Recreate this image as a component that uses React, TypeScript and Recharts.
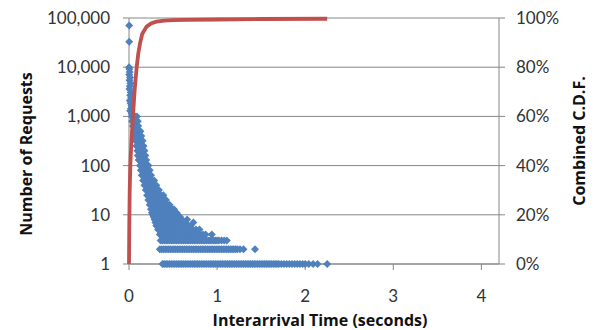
import React from 'react';
import { ScatterChart, Scatter, XAxis, YAxis, CartesianGrid } from 'recharts';

// request counts per interarrival bin
const spikeX = [0.002, 0.002, 0.001, 0.004, 0.008, 0.003, 0.012, 0.006, 0.016, 0.01, 0.005, 0.02, 0.014, 0.024, 0.009, 0.018, 0.028, 0.022, 0.013, 0.03];
const spikeY = [70000, 33000, 10000, 9200, 8000, 7000, 6200, 5400, 4700, 4100, 3600, 3100, 2700, 2400, 2100, 1850, 1650, 1450, 1300, 1150];

const rowCounts = [1000, 800, 640, 500, 400, 320, 250, 200, 160, 130, 100, 80, 64, 50, 40, 32, 25, 20, 16, 13, 11, 10, 9, 8, 7, 6, 5, 4, 3, 2, 1];
const rowX = [
  [0.03, 0.05, 0.07, 0.09],
  [0.035, 0.055, 0.075, 0.1],
  [0.045, 0.065, 0.085, 0.105],
  [0.055, 0.075, 0.095, 0.115, 0.13],
  [0.065, 0.085, 0.105, 0.125, 0.14],
  [0.075, 0.095, 0.115, 0.135, 0.155],
  [0.085, 0.105, 0.125, 0.145, 0.165],
  [0.095, 0.115, 0.135, 0.155, 0.175],
  [0.1, 0.12, 0.14, 0.16, 0.185],
  [0.11, 0.13, 0.15, 0.17, 0.195],
  [0.125, 0.145, 0.165, 0.185, 0.205, 0.22],
  [0.135, 0.155, 0.175, 0.195, 0.215, 0.235],
  [0.145, 0.165, 0.185, 0.205, 0.225, 0.25],
  [0.16, 0.18, 0.2, 0.22, 0.24, 0.26, 0.285],
  [0.175, 0.195, 0.215, 0.235, 0.255, 0.275, 0.295, 0.31],
  [0.19, 0.21, 0.23, 0.25, 0.27, 0.29, 0.31, 0.34],
  [0.205, 0.225, 0.245, 0.265, 0.285, 0.305, 0.325, 0.345, 0.365, 0.39],
  [0.22, 0.24, 0.26, 0.28, 0.3, 0.32, 0.34, 0.36, 0.38, 0.4, 0.42],
  [0.235, 0.255, 0.275, 0.295, 0.315, 0.335, 0.355, 0.375, 0.395, 0.415, 0.435, 0.46],
  [0.25, 0.27, 0.29, 0.31, 0.33, 0.35, 0.37, 0.39, 0.41, 0.43, 0.45, 0.47, 0.49, 0.51],
  [0.26, 0.28, 0.3, 0.32, 0.34, 0.36, 0.38, 0.4, 0.42, 0.44, 0.46, 0.48, 0.5, 0.52, 0.54],
  [0.27, 0.29, 0.31, 0.33, 0.35, 0.37, 0.39, 0.41, 0.43, 0.45, 0.47, 0.49, 0.51, 0.53, 0.55],
  [0.28, 0.3, 0.32, 0.34, 0.36, 0.38, 0.4, 0.42, 0.44, 0.46, 0.48, 0.5, 0.52, 0.54, 0.56, 0.58],
  [0.29, 0.31, 0.33, 0.35, 0.37, 0.39, 0.41, 0.43, 0.45, 0.47, 0.49, 0.51, 0.53, 0.55, 0.57, 0.6, 0.66],
  [0.3, 0.32, 0.34, 0.36, 0.38, 0.4, 0.42, 0.44, 0.46, 0.48, 0.5, 0.52, 0.54, 0.56, 0.58, 0.6, 0.62, 0.64, 0.73],
  [0.31, 0.33, 0.35, 0.37, 0.39, 0.41, 0.43, 0.45, 0.47, 0.49, 0.51, 0.53, 0.55, 0.57, 0.59, 0.61, 0.64, 0.67, 0.7],
  [0.33, 0.35, 0.37, 0.39, 0.41, 0.43, 0.45, 0.47, 0.49, 0.51, 0.53, 0.55, 0.57, 0.59, 0.61, 0.63, 0.65, 0.67, 0.69, 0.72, 0.76, 0.8],
  [0.35, 0.37, 0.39, 0.41, 0.43, 0.45, 0.47, 0.49, 0.51, 0.53, 0.55, 0.57, 0.59, 0.61, 0.63, 0.65, 0.67, 0.69, 0.71, 0.73, 0.75, 0.77, 0.79, 0.81, 0.84, 0.87, 0.94],
  [0.36, 0.38, 0.4, 0.42, 0.44, 0.46, 0.48, 0.5, 0.52, 0.54, 0.56, 0.58, 0.6, 0.62, 0.64, 0.66, 0.68, 0.7, 0.72, 0.74, 0.76, 0.78, 0.8, 0.82, 0.84, 0.86, 0.88, 0.9, 0.92, 0.94, 0.96, 0.98, 1.0, 1.02, 1.05, 1.08, 1.11],
  [0.35, 0.37, 0.39, 0.41, 0.43, 0.45, 0.47, 0.49, 0.51, 0.53, 0.55, 0.57, 0.59, 0.61, 0.63, 0.65, 0.67, 0.69, 0.71, 0.73, 0.75, 0.77, 0.79, 0.81, 0.83, 0.85, 0.87, 0.89, 0.91, 0.93, 0.95, 0.97, 0.99, 1.01, 1.03, 1.05, 1.07, 1.09, 1.11, 1.13, 1.15, 1.17, 1.19, 1.21, 1.23, 1.26, 1.3, 1.43],
  [0.38, 0.4, 0.42, 0.44, 0.46, 0.48, 0.5, 0.52, 0.54, 0.56, 0.58, 0.6, 0.62, 0.64, 0.66, 0.68, 0.7, 0.72, 0.74, 0.76, 0.78, 0.8, 0.82, 0.84, 0.86, 0.88, 0.9, 0.92, 0.94, 0.96, 0.98, 1.0, 1.02, 1.04, 1.06, 1.08, 1.1, 1.12, 1.14, 1.16, 1.18, 1.2, 1.22, 1.24, 1.26, 1.28, 1.3, 1.32, 1.34, 1.36, 1.38, 1.4, 1.42, 1.44, 1.46, 1.48, 1.5, 1.52, 1.54, 1.56, 1.58, 1.6, 1.62, 1.64, 1.66, 1.68, 1.7, 1.73, 1.76, 1.79, 1.82, 1.85, 1.88, 1.91, 1.94, 1.97, 2.0, 2.04, 2.09, 2.14, 2.25],
];

// combined CDF (right axis)
const cdfX = [0, 0.003, 0.008, 0.015, 0.025, 0.035, 0.05, 0.065, 0.087, 0.105, 0.125, 0.15, 0.2, 0.25, 0.31, 0.4, 0.5, 0.65, 1.0, 1.5, 2.25];
const cdfY = [0, 0.15, 0.3, 0.4, 0.48, 0.54, 0.63, 0.71, 0.8, 0.855, 0.897, 0.935, 0.965, 0.978, 0.985, 0.989, 0.991, 0.992, 0.994, 0.996, 0.997];

const xTicks = [0, 1, 2, 3, 4];
const countTicks = [1, 10, 100, 1000, 10000, 100000];
const cdfTicks = [0, 0.2, 0.4, 0.6, 0.8, 1];

const requestPoints = [
  ...spikeX.map((x, i) => ({ x, y: spikeY[i] })),
  ...rowCounts.flatMap((c, i) => rowX[i].map((x) => ({ x, y: c }))),
];
const cdfPoints = cdfX.map((x, i) => ({ x, y: cdfY[i] }));

const BLUE = '#4f81bd';
const RED = '#c0504d';
const AXIS = '#868686';
const FONT = 'Lato, "Open Sans", sans-serif';
const TITLE_FONT = '"Open Sans", Lato, sans-serif';
const tickStyle = { fill: '#333', fontSize: 17, fontFamily: FONT };

const Diamond = (props: any) => {
  const { cx, cy } = props;
  const r = 4;
  return <path d={`M${cx},${cy - r}L${cx + r},${cy}L${cx},${cy + r}L${cx - r},${cy}Z`} fill={BLUE} />;
};

const Nothing = () => <g />;

export default function App() {
  return (
    <div style={{ position: 'absolute', left: 0, top: 0, width: 595, height: 330, background: '#fff' }}>
      <ScatterChart width={595} height={330} margin={{ top: 18, right: 36, bottom: 26, left: 0 }}>
        <CartesianGrid yAxisId="left" vertical={false} stroke={AXIS} strokeWidth={1} />
        <XAxis
          type="number"
          dataKey="x"
          domain={[0, 4.2]}
          ticks={xTicks}
          height={40}
          tickSize={6}
          tickMargin={20}
          stroke={AXIS}
          tick={tickStyle}
        />
        <YAxis
          yAxisId="left"
          type="number"
          dataKey="y"
          scale="log"
          domain={[1, 100000]}
          ticks={countTicks}
          width={129}
          tickSize={6}
          tickMargin={13}
          stroke={AXIS}
          tick={tickStyle}
          tickFormatter={(v: number) => v.toLocaleString('en-US')}
        />
        <YAxis
          yAxisId="right"
          orientation="right"
          type="number"
          dataKey="y"
          domain={[0, 1]}
          ticks={cdfTicks}
          width={60}
          tickSize={6}
          tickMargin={11}
          stroke={AXIS}
          tick={tickStyle}
          tickFormatter={(v: number) => `${Math.round(v * 100)}%`}
        />
        <Scatter yAxisId="left" data={requestPoints} shape={<Diamond />} isAnimationActive={false} />
        <Scatter
          yAxisId="right"
          data={cdfPoints}
          line={{ stroke: RED, strokeWidth: 3.8 }}
          lineType="joint"
          shape={<Nothing />}
          isAnimationActive={false}
        />
      </ScatterChart>
      <svg width={595} height={330} style={{ position: 'absolute', left: 0, top: 0, pointerEvents: 'none' }}>
        <g fontFamily={TITLE_FONT} fontWeight="bold" fontSize={16} fill="#111">
          <text x={26} y={154} transform="rotate(-90 26 154)" textAnchor="middle" dominantBaseline="central">
            Number of Requests
          </text>
          <text x={579} y={141} transform="rotate(-90 579 141)" textAnchor="middle" dominantBaseline="central">
            Combined C.D.F.
          </text>
          <text x={320} y={326} textAnchor="middle">
            Interarrival Time (seconds)
          </text>
        </g>
      </svg>
    </div>
  );
}
